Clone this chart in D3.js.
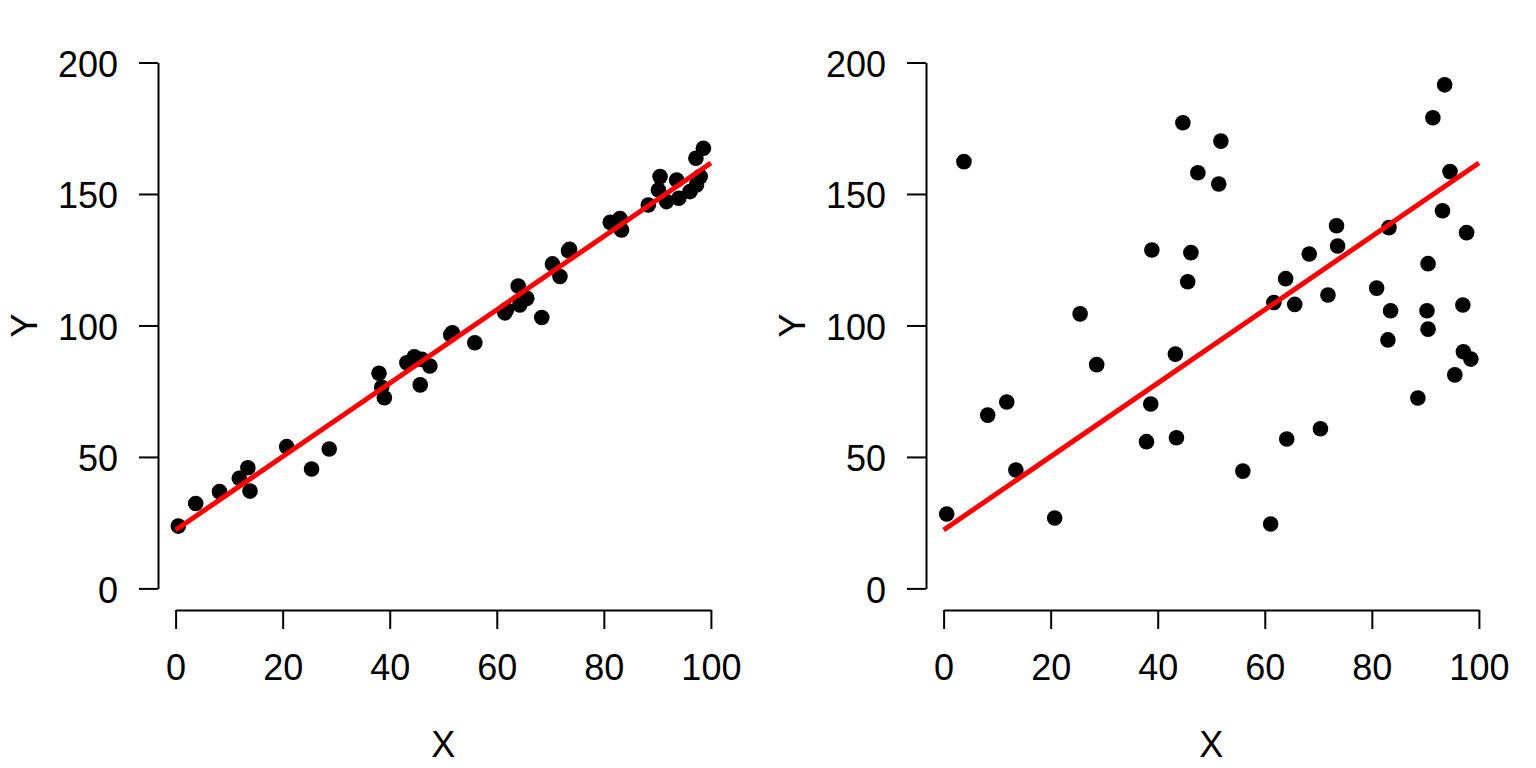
<!DOCTYPE html>
<html>
<head>
<meta charset="utf-8">
<script src="https://cdn.jsdelivr.net/npm/d3@7"></script>
<style>
  body { margin: 0; background: #fff; }
  svg text { font-family: "Liberation Sans", Arial, sans-serif; fill: #000; }
</style>
</head>
<body>
<svg width="1536" height="768"></svg>
<script>
// left panel: tight fit
const leftX = [0.5, 3.75, 8.2, 11.9, 13.5, 13.9, 20.75, 25.4, 28.7, 38.0, 38.5, 39.0,
  43.2, 44.6, 46.0, 45.7, 47.5, 51.4, 51.7, 55.9, 61.5, 61.8, 64.0, 64.3, 65.6, 68.4,
  70.4, 71.8, 73.4, 73.6, 81.2, 83.0, 83.3, 88.3, 90.5, 90.2, 91.7, 93.6, 94.0, 96.1,
  97.3, 98.0, 97.2, 98.6];
const leftY = [23.7, 32.3, 36.8, 41.9, 45.9, 37.0, 53.9, 45.4, 53.0, 81.8, 76.5, 72.5,
  85.8, 88.1, 87.1, 77.4, 84.6, 96.5, 97.2, 93.4, 104.8, 106.0, 115.0, 107.8, 110.3, 103.0,
  123.4, 118.6, 128.4, 129.0, 139.2, 140.7, 136.3, 145.8, 156.6, 151.5, 147.1, 155.3, 148.4, 150.9,
  153.4, 156.6, 163.6, 167.4];

// right panel: wide scatter
const rightX = [0.58, 3.8, 8.24, 11.8, 13.5, 20.75, 25.5, 28.6, 37.9, 38.7, 38.9, 43.3,
  43.5, 44.7, 45.6, 46.2, 47.5, 51.4, 51.8, 55.9, 61.1, 61.7, 63.9, 64.1, 65.6, 68.3,
  70.4, 71.8, 73.4, 73.6, 80.9, 83.0, 83.2, 83.5, 88.6, 90.3, 90.5, 90.5, 91.4, 93.2,
  93.6, 94.6, 95.5, 97.0, 97.1, 97.7, 98.5];
const rightY = [28.3, 162.3, 65.9, 70.9, 45.0, 26.8, 104.4, 85.1, 55.8, 70.1, 128.7, 89.1,
  57.3, 177.1, 116.6, 127.7, 158.1, 153.8, 170.1, 44.6, 24.5, 108.7, 117.8, 56.8, 108.0, 127.2,
  60.7, 111.6, 137.9, 130.2, 114.2, 94.5, 137.2, 105.6, 72.4, 105.6, 98.6, 123.5, 179.0, 143.6,
  191.5, 158.5, 81.2, 107.8, 90.0, 135.3, 87.2];

// fitted line (same in both panels)
const lineX = [0, 100];
const lineY = [22.2, 161.8];

const xTicks = [0, 20, 40, 60, 80, 100];
const yTicks = [0, 50, 100, 150, 200];

const svg = d3.select("svg");
const fontSize = 36;

function drawPanel(offset, xs, ys) {
    const g = svg.append("g").attr("transform", "translate(" + offset + ",0)");

    const x = d3.scaleLinear().domain([0, 100]).range([175.6, 710.9]);
    const y = d3.scaleLinear().domain([0, 200]).range([588.4, 62.5]);

    const xAxis = g.append("g")
        .attr("transform", "translate(0,610)")
        .call(d3.axisBottom(x).tickValues(xTicks).tickSize(19).tickSizeOuter(0).tickPadding(25));
    const yAxis = g.append("g")
        .attr("transform", "translate(158,0)")
        .call(d3.axisLeft(y).tickValues(yTicks).tickSize(19).tickSizeOuter(0).tickPadding(21));

    [xAxis, yAxis].forEach(a => {
        a.selectAll("path, line").attr("stroke", "#000").attr("stroke-width", 2);
        a.selectAll("text").attr("font-size", fontSize).attr("fill", "#000")
            .style("font-family", "'Liberation Sans', Arial, sans-serif");
    });
    yAxis.selectAll("text").attr("dy", "0.38em");

    g.append("text")
        .attr("x", (x(0) + x(100)) / 2)
        .attr("y", 757)
        .attr("text-anchor", "middle")
        .attr("font-size", fontSize)
        .text("X");

    g.append("text")
        .attr("transform", "translate(37," + y(100) + ") rotate(-90)")
        .attr("text-anchor", "middle")
        .attr("font-size", fontSize)
        .text("Y");

    g.selectAll(".pt")
        .data(xs.map((d, i) => [d, ys[i]]))
        .enter().append("circle")
            .attr("class", "pt")
            .attr("cx", d => x(d[0]))
            .attr("cy", d => y(d[1]))
            .attr("r", 7.8)
            .attr("fill", "#000");

    g.append("path")
        .datum(lineX.map((d, i) => [d, lineY[i]]))
        .attr("fill", "none")
        .attr("stroke", "#ff0000")
        .attr("stroke-width", 5)
        .attr("d", d3.line().x(d => x(d[0])).y(d => y(d[1])));
}

drawPanel(0, leftX, leftY);
drawPanel(768, rightX, rightY);
</script>
</body>
</html>
